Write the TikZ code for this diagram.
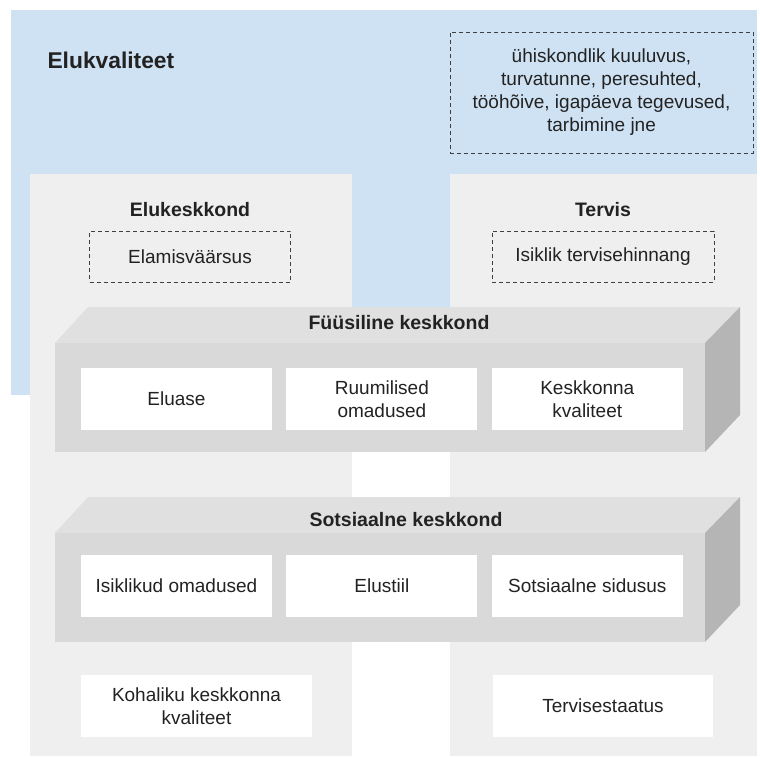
\documentclass[tikz,border=0pt]{standalone}
\usepackage{fontspec}
\setmainfont{Liberation Sans}
\usetikzlibrary{positioning}

\definecolor{skyblue}{HTML}{CFE2F3}
\definecolor{panelgray}{HTML}{EFEFEF}
\definecolor{frontgray}{HTML}{D9D9D9}
\definecolor{topgray}{HTML}{E0E0E0}
\definecolor{sidegray}{HTML}{B5B5B5}
\definecolor{inkgray}{HTML}{222222}

\tikzset{
    every node/.style={
        font=\fontsize{19}{23}\selectfont,
        text=inkgray,
        align=center
    },
    heading/.style={
        font=\fontsize{19.5}{23}\selectfont\bfseries
    },
    itembox/.style={
        fill=white,
        inner sep=0pt,
        minimum width=191pt,
        minimum height=62pt
    },
    dashbox/.style={
        draw=black!75,
        line width=0.9pt,
        dash pattern=on 4pt off 3pt,
        inner sep=0pt
    }
}

\begin{document}
\begin{tikzpicture}[x=1pt, y=-1pt]

    \useasboundingbox (0,0) rectangle (760,756);

    \fill[skyblue] (11,10) rectangle (757,395);
    \fill[panelgray] (30,174) rectangle (352,756);
    \fill[panelgray] (450,174) rectangle (757,756);

    \node[anchor=west,
        font=\fontsize{22.8}{26}\selectfont\bfseries
    ] (quality) at (44,60){Elukvaliteet};
    \node[dashbox,
        minimum width=303pt,
        minimum height=121pt
    ] (factors) at (601.5,92.5){ühiskondlik kuuluvus,\\turvatunne, peresuhted,\\tööhõive, igapäeva tegevused,\\tarbimine jne};

    \node[heading] (environment) at (190,210){Elukeskkond};
    \node[dashbox,
        minimum width=201pt,
        minimum height=51pt,
        below=10pt of environment
    ] (livability) {Elamisväärsus};
    \node[heading] (health) at (603,210){Tervis};
    \node[dashbox,
        minimum width=222pt,
        minimum height=51pt,
        below=10pt of health
    ] (selfrated) {Isiklik tervisehinnang};

    \fill[topgray] (55,343) -- (88,307) -- (740,307) -- (705,343) -- cycle;
    \fill[sidegray] (705,343) -- (740,307) -- (740,415) -- (705,452) -- cycle;
    \fill[frontgray] (55,343) rectangle (705,452);
    \node[heading] (physical) at (399,323){Füüsiline keskkond};
    \node[itembox] (dwelling) at (176.5,399){Eluase};
    \node[itembox, right=14pt of dwelling] (spatial) {Ruumilised\\omadused};
    \node[itembox, right=14pt of spatial] (envquality) {Keskkonna\\kvaliteet};

    \fill[topgray] (55,533) -- (88,497) -- (740,497) -- (705,533) -- cycle;
    \fill[sidegray] (705,533) -- (740,497) -- (740,605) -- (705,642) -- cycle;
    \fill[frontgray] (55,533) rectangle (705,642);
    \node[heading] (social) at (406,520){Sotsiaalne keskkond};
    \node[itembox] (personal) at (176.5,586){Isiklikud omadused};
    \node[itembox, right=14pt of personal] (lifestyle) {Elustiil};
    \node[itembox, right=14pt of lifestyle] (cohesion) {Sotsiaalne sidusus};

    \node[itembox,
        minimum width=231pt
    ] (local) at (196.5,706){Kohaliku keskkonna\\kvaliteet};
    \node[itembox,
        minimum width=220pt
    ] (status) at (603,706){Tervisestaatus};

\end{tikzpicture}
\end{document}
